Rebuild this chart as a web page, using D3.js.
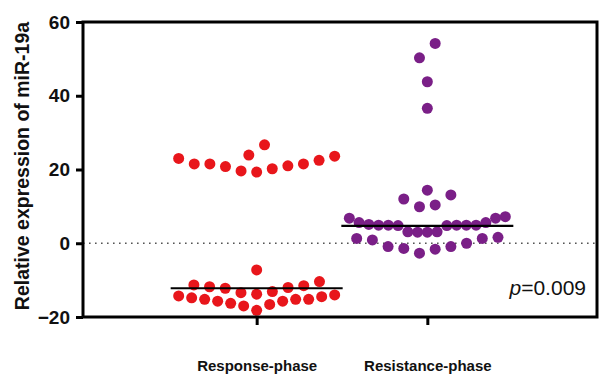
<!DOCTYPE html>
<html>
<head>
<meta charset="utf-8">
<script src="https://cdn.jsdelivr.net/npm/d3@7"></script>
<style>
  html, body { margin: 0; padding: 0; background: #fff; }
  svg { display: block; }
  text { font-family: "Liberation Sans", Arial, Helvetica, sans-serif; }
</style>
</head>
<body>
<svg id="chart" width="600" height="374"></svg>
<script>
// ---- data ----
const categories = ["Response-phase", "Resistance-phase"];
const responseValues = [
  23.0, 21.5, 21.5, 20.8, 19.6, 23.9, 19.3, 26.7, 20.2, 21.0, 21.5, 22.5, 23.6,
  -7.25,
  -11.3, -11.8, -12.2, -13.4, -13.8, -13.1, -12.0, -11.5, -10.4,
  -14.0, -14.5, -15.2, -15.2, -15.7, -16.6, -18.2, -17.0, -16.3, -15.7, -15.2, -14.8, -14.3
];
const resistanceValues = [
  54.2, 50.3, 43.8, 36.6,
  14.4, 13.1, 12.0, 10.4, 9.9, 6.8, 7.2, 6.8,
  5.6, 4.9, 4.9, 4.9, 4.8, 3.1, 3.0, 3.0, 3.1, 4.8, 4.9, 4.9, 5.1, 5.6,
  1.3, 0.9, -0.9, -1.4, -2.7, -1.6, -0.9, 0.0, 1.3, 1.6
];
const medians = [-12.2, 4.7];
const yTicks = [-20, 0, 20, 40, 60];
const yLabel = "Relative expression of miR-19a";
const pLabel = "0.009";
const colors = ["#e8161b", "#7a1f87"];

// ---- layout ----
(function () {
const svg = d3.select("#chart");
const mLeft = 83, mRight = 597, mTop = 22, mBottom = 317;

const y = d3.scaleLinear().domain([-20, 60]).range([mBottom, mTop]);
const x = d3.scalePoint().domain(categories).range([86, 598]).padding(1);

// Prism-like column scatter: rows of similar values, spread alternately from centre
function swarm(values, rowWidth, step, maxHalf) {
  const pts = values.map((v, i) => ({ v, i })).sort((a, b) => a.v - b.v);
  const rows = [];
  let cur = null;
  for (const p of pts) {
    if (!cur || p.v - cur[0].v > rowWidth) { cur = []; rows.push(cur); }
    cur.push(p);
  }
  rows.forEach(row => {
    const n = row.length;
    const s = n > 1 ? Math.min(step, (2 * maxHalf) / (n - 1)) : step;
    row.forEach((p, k) => {
      let slot;
      if (n % 2 === 1) {
        slot = k === 0 ? 0 : (k % 2 === 1 ? -Math.ceil(k / 2) : k / 2);
      } else {
        const j = Math.floor(k / 2);
        slot = (k % 2 === 0 ? -1 : 1) * (j + 0.5);
      }
      p.dx = slot * s;
    });
  });
  return pts;
}

const groups = [responseValues, resistanceValues];

// zero dotted line
svg.append("line")
  .attr("x1", mLeft).attr("x2", mRight)
  .attr("y1", y(0)).attr("y2", y(0))
  .attr("stroke", "#555").attr("stroke-width", 1.6)
  .attr("stroke-dasharray", "1.6 4.4");

// points
groups.forEach((vals, gi) => {
  const pts = swarm(vals, 4.35, 15.7, 78);
  svg.append("g").selectAll("circle").data(pts).join("circle")
    .attr("cx", d => x(categories[gi]) + d.dx)
    .attr("cy", d => y(d.v))
    .attr("r", 5.5)
    .attr("fill", colors[gi]);
});

// median lines
svg.append("g").selectAll("line").data(medians).join("line")
  .attr("x1", (d, i) => x(categories[i]) - 86)
  .attr("x2", (d, i) => x(categories[i]) + 86)
  .attr("y1", d => y(d)).attr("y2", d => y(d))
  .attr("stroke", "#000").attr("stroke-width", 2.2);

// frame
svg.append("rect")
  .attr("x", mLeft).attr("y", mTop)
  .attr("width", mRight - mLeft).attr("height", mBottom - mTop)
  .attr("fill", "none").attr("stroke", "#000").attr("stroke-width", 3);

// y axis
const yAxis = svg.append("g")
  .attr("transform", `translate(${mLeft},0)`)
  .call(d3.axisLeft(y).tickValues(yTicks).tickSize(7).tickSizeOuter(0).tickPadding(6));
yAxis.select(".domain").remove();
yAxis.selectAll(".tick line").attr("stroke", "#000").attr("stroke-width", 3);
yAxis.selectAll(".tick text")
  .attr("fill", "#111")
  .style("font-size", "19px").style("font-weight", "bold");

// x axis
const xAxis = svg.append("g")
  .attr("transform", `translate(0,${mBottom})`)
  .call(d3.axisBottom(x).tickSize(8).tickSizeOuter(0));
xAxis.select(".domain").remove();
xAxis.selectAll(".tick line").attr("stroke", "#000").attr("stroke-width", 3);
xAxis.selectAll(".tick text")
  .attr("y", 53.5).attr("dy", 0)
  .attr("fill", "#111")
  .style("font-size", "15px").style("font-weight", "bold");

// y title
svg.append("text")
  .attr("transform", "rotate(-90)")
  .attr("x", -166).attr("y", 29)
  .attr("text-anchor", "middle")
  .attr("fill", "#111")
  .style("font-size", "19.5px").style("font-weight", "bold")
  .text(yLabel);

// p value
const pt = svg.append("text")
  .attr("x", 586).attr("y", 295)
  .attr("text-anchor", "end")
  .attr("fill", "#111")
  .style("font-size", "21px");
pt.append("tspan").style("font-style", "italic").text("p");
pt.append("tspan").text("=" + pLabel);
})();
</script>
</body>
</html>
